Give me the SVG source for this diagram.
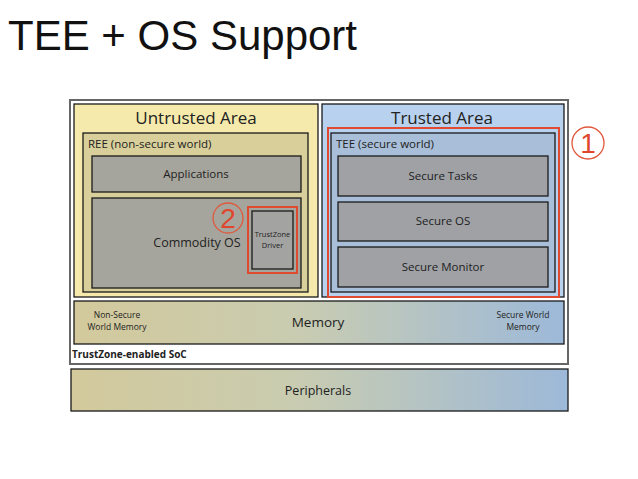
<svg xmlns="http://www.w3.org/2000/svg" width="638" height="479" viewBox="0 0 638 479">
<defs>
<linearGradient id="gmem" x1="0" y1="0" x2="1" y2="0">
<stop offset="0" stop-color="#d3c99c"/>
<stop offset="0.45" stop-color="#c9ccb0"/>
<stop offset="1" stop-color="#9db9d9"/>
</linearGradient>
<style>
text{font-family:"Open Sans","Noto Sans","DejaVu Sans",sans-serif;fill:#222}
.box{stroke:#1a1a1a;stroke-width:1.3}
.grey{fill:#a6a59d}
.sgrey{fill:#9fa1a5}
.red{fill:none;stroke:#e04a30;stroke-width:2}
.c{text-anchor:middle}
</style>
</defs>
<rect width="638" height="479" fill="#fff"/>
<text x="8" y="50" font-size="42" style="font-family:'Liberation Sans',Arial,sans-serif;fill:#111">TEE + OS Support</text>

<g id="soc">
<rect x="70" y="100" width="498" height="264" fill="#fff" stroke="#666" stroke-width="2"/>
<text x="72" y="358" font-size="10" font-weight="bold">TrustZone-enabled SoC</text>
</g>

<g id="untrusted">
<rect class="box" x="74" y="104" width="244" height="193" fill="#f5eaab"/>
<text class="c" x="196" y="124" font-size="17">Untrusted Area</text>
</g>
<g id="ree">
<rect class="box" x="83" y="133" width="225" height="159" fill="#d8cf9b"/>
<text x="88" y="148" font-size="11.5">REE (non-secure world)</text>
</g>
<g id="applications">
<rect class="box grey" x="92" y="156" width="209" height="36"/>
<text class="c" x="196" y="178" font-size="11.5">Applications</text>
</g>
<g id="commodity-os">
<rect class="box grey" x="92" y="198" width="209" height="90"/>
<text class="c" x="197" y="247" font-size="12.5">Commodity OS</text>
</g>
<g id="trustzone-driver">
<rect class="red" x="248" y="207" width="49" height="66"/>
<rect class="box" x="252" y="211" width="41" height="58" fill="#a3a4a2"/>
<text class="c" x="272.5" y="237" font-size="7.5">TrustZone</text>
<text class="c" x="272.5" y="248" font-size="7.5">Driver</text>
</g>
<g id="marker2">
<circle cx="228" cy="218" r="15" fill="none" stroke="#e0583c" stroke-width="1.3"/>
<text class="c" x="228" y="228" font-size="28" style="fill:#e0462c;font-family:'Liberation Sans',Arial,sans-serif">2</text>
</g>

<g id="trusted">
<rect class="box" x="322" y="104" width="242" height="193" fill="#b8d1ee"/>
<text class="c" x="442" y="124" font-size="17">Trusted Area</text>
</g>
<g id="tee">
<rect class="red" x="328" y="128" width="231" height="169"/>
<rect class="box" x="331" y="133" width="224" height="159" fill="#a9bed8"/>
<text x="336" y="148" font-size="11.5">TEE (secure world)</text>
</g>
<g id="secure-tasks">
<rect class="box sgrey" x="338" y="156" width="210" height="40"/>
<text class="c" x="443" y="180" font-size="11.5">Secure Tasks</text>
</g>
<g id="secure-os">
<rect class="box sgrey" x="338" y="202" width="210" height="39"/>
<text class="c" x="443" y="225" font-size="11.5">Secure OS</text>
</g>
<g id="secure-monitor">
<rect class="box sgrey" x="338" y="247" width="210" height="40"/>
<text class="c" x="443" y="271" font-size="11.5">Secure Monitor</text>
</g>
<g id="marker1">
<circle cx="588" cy="143" r="16" fill="none" stroke="#e0583c" stroke-width="1.3"/>
<text class="c" x="588" y="153" font-size="28" style="fill:#e0462c;font-family:'Liberation Sans',Arial,sans-serif">1</text>
</g>

<g id="memory">
<rect class="box" x="74" y="301" width="490" height="43" fill="url(#gmem)"/>
<text class="c" x="318" y="327" font-size="13.5">Memory</text>
<text class="c" x="117" y="318" font-size="8.5">Non-Secure</text>
<text class="c" x="117" y="330" font-size="8.5">World Memory</text>
<text class="c" x="523" y="318" font-size="8.5">Secure World</text>
<text class="c" x="523" y="330" font-size="8.5">Memory</text>
</g>

<g id="peripherals">
<rect class="box" x="71" y="369" width="497" height="42" fill="url(#gmem)"/>
<text class="c" x="318" y="395" font-size="12.5">Peripherals</text>
</g>
<g id="connectors"></g>
</svg>
